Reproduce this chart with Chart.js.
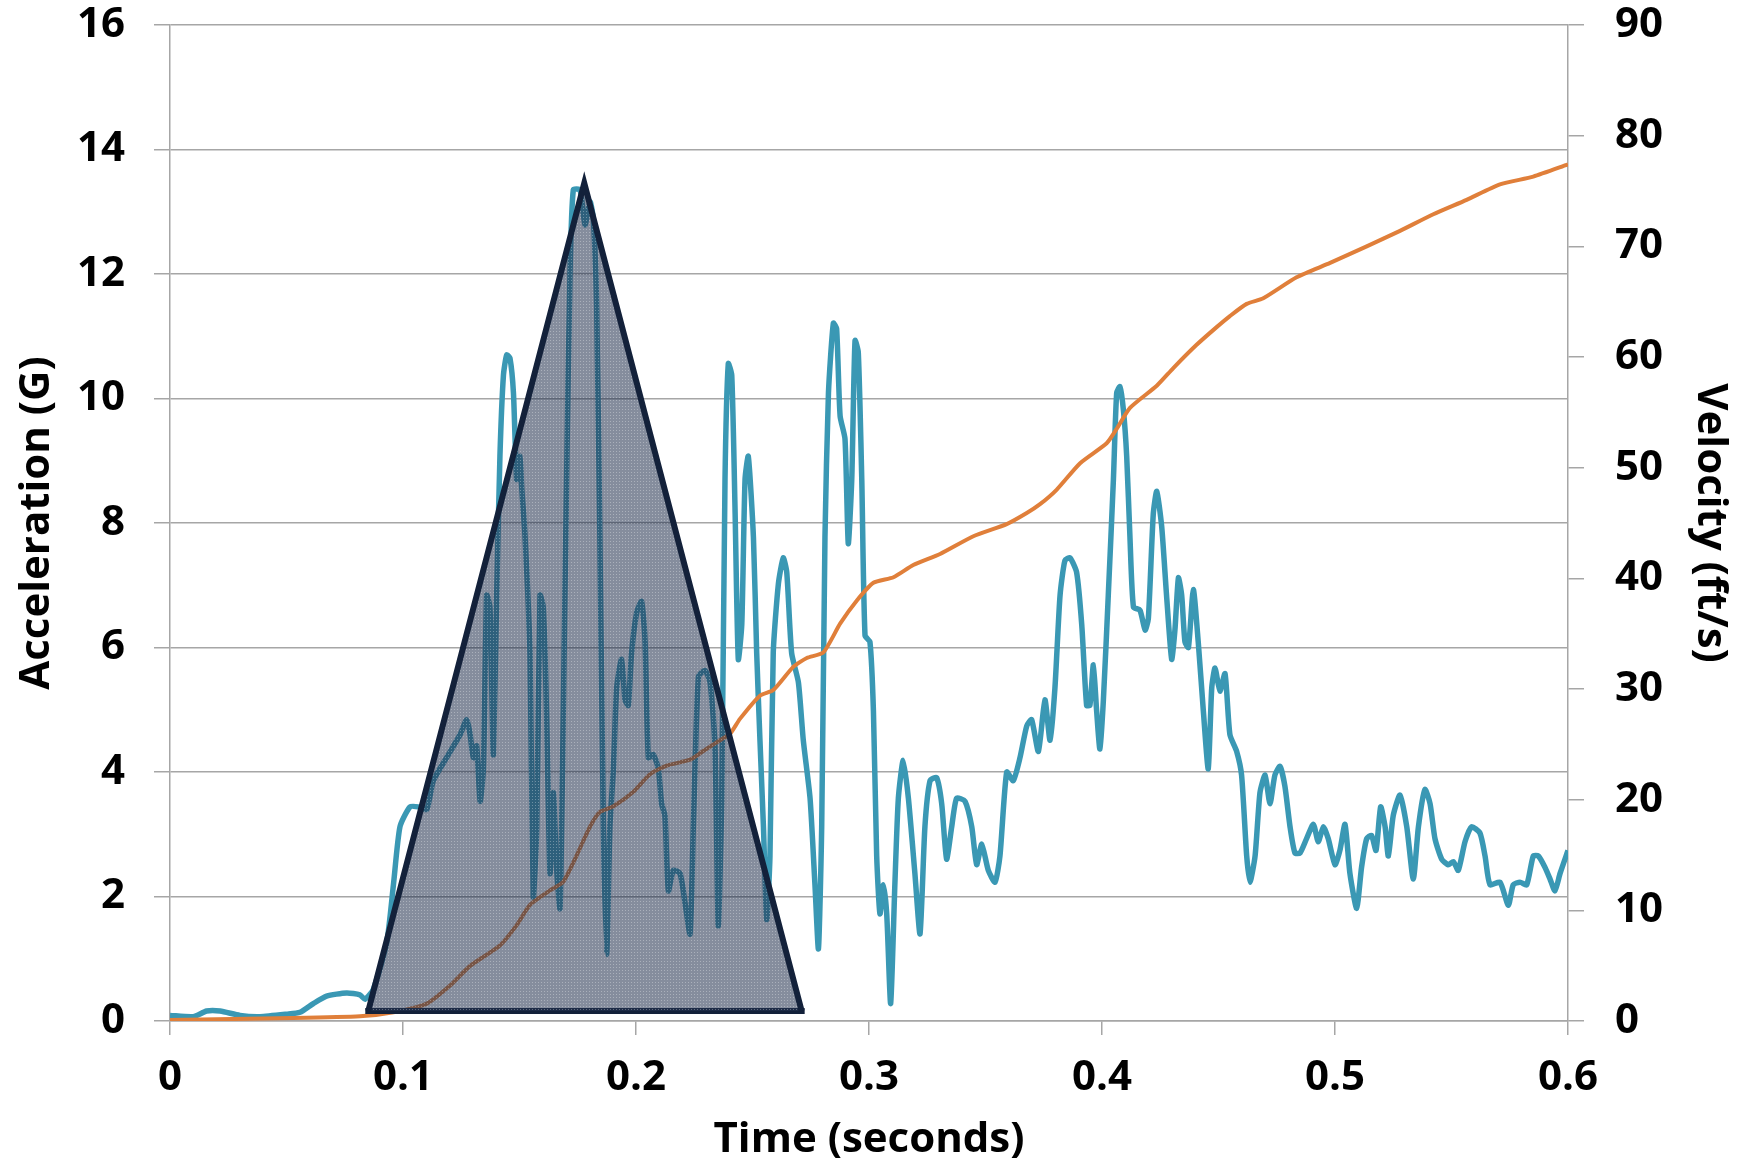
<!DOCTYPE html>
<html>
<head>
<meta charset="utf-8">
<script src="https://cdn.jsdelivr.net/npm/chart.js@4.4.1/dist/chart.umd.min.js"></script>
<style>
  html, body { margin: 0; padding: 0; background: #fff; }
  canvas { display: block; }
</style>
</head>
<body>
<canvas id="impactChart" width="1744" height="1163"></canvas>
<script>
// Acceleration trace (G) vs time (s)
const accTime = [0, 0.0100, 0.0157, 0.0215, 0.0300, 0.0386, 0.0500, 0.0558, 0.0615, 0.0672, 0.0758, 0.0815, 0.0837, 0.0873,
  0.0930, 0.0959, 0.0987, 0.1030, 0.1066, 0.1102, 0.1130, 0.1187, 0.1245, 0.1273, 0.1288, 0.1302, 0.1316, 0.1331, 0.1345,
  0.1359, 0.1373, 0.1381, 0.1388, 0.1402, 0.1416, 0.1431, 0.1445, 0.1459, 0.1474, 0.1488, 0.1502, 0.1509, 0.1524, 0.1545,
  0.1559, 0.1574, 0.1588, 0.1602, 0.1616, 0.1631, 0.1645, 0.1659, 0.1674, 0.1688, 0.1702, 0.1717, 0.1731, 0.1760, 0.1781,
  0.1803, 0.1817, 0.1831, 0.1845, 0.1860, 0.1874, 0.1888, 0.1903, 0.1917, 0.1938, 0.1953, 0.1967, 0.1981, 0.2003, 0.2024,
  0.2039, 0.2053, 0.2074, 0.2096, 0.2110, 0.2124, 0.2139, 0.2160, 0.2189, 0.2210, 0.2232, 0.2246, 0.2268, 0.2296, 0.2318,
  0.2339, 0.2353, 0.2368, 0.2382, 0.2396, 0.2411, 0.2425, 0.2439, 0.2454, 0.2468, 0.2482, 0.2504, 0.2518, 0.2532, 0.2547,
  0.2561, 0.2575, 0.2589, 0.2611, 0.2632, 0.2647, 0.2668, 0.2697, 0.2718, 0.2747, 0.2768, 0.2783, 0.2797, 0.2811, 0.2826,
  0.2847, 0.2861, 0.2876, 0.2897, 0.2911, 0.2926, 0.2940, 0.2954, 0.2969, 0.2983, 0.3004, 0.3019, 0.3033, 0.3047, 0.3062,
  0.3076, 0.3093, 0.3111, 0.3126, 0.3147, 0.3169, 0.3197, 0.3219, 0.3240, 0.3262, 0.3290, 0.3312, 0.3333, 0.3355, 0.3376,
  0.3412, 0.3441, 0.3462, 0.3484, 0.3512, 0.3541, 0.3562, 0.3591, 0.3619, 0.3648, 0.3677, 0.3698, 0.3727, 0.3755, 0.3777,
  0.3798, 0.3820, 0.3841, 0.3863, 0.3891, 0.3913, 0.3934, 0.3948, 0.3963, 0.3977, 0.3991, 0.4006, 0.4027, 0.4049, 0.4063,
  0.4077, 0.4092, 0.4106, 0.4120, 0.4135, 0.4163, 0.4185, 0.4199, 0.4220, 0.4235, 0.4256, 0.4277, 0.4299, 0.4313, 0.4328,
  0.4342, 0.4356, 0.4371, 0.4392, 0.4413, 0.4435, 0.4456, 0.4471, 0.4485, 0.4506, 0.4528, 0.4549, 0.4578, 0.4599, 0.4621,
  0.4635, 0.4657, 0.4678, 0.4700, 0.4721, 0.4742, 0.4764, 0.4785, 0.4807, 0.4828, 0.4850, 0.4878, 0.4907, 0.4928, 0.4950,
  0.4971, 0.5000, 0.5021, 0.5043, 0.5064, 0.5093, 0.5114, 0.5136, 0.5157, 0.5176, 0.5196, 0.5215, 0.5229, 0.5250, 0.5279,
  0.5308, 0.5336, 0.5358, 0.5386, 0.5408, 0.5429, 0.5458, 0.5486, 0.5508, 0.5529, 0.5558, 0.5586, 0.5622, 0.5644, 0.5665,
  0.5708, 0.5744, 0.5765, 0.5794, 0.5823, 0.5851, 0.5873, 0.5901, 0.5923, 0.5944, 0.5966, 0.6000];
const accG = [0.09, 0.07, 0.16, 0.16, 0.09, 0.07, 0.11, 0.14, 0.28, 0.40, 0.45, 0.42, 0.35, 0.51,
  1.26, 2.19, 3.12, 3.44, 3.44, 3.40, 3.86, 4.23, 4.60, 4.84, 4.60, 4.23, 4.42, 3.53, 4.05,
  6.84, 6.65, 5.35, 4.28, 6.84, 9.07, 10.37, 10.70, 10.65, 10.09, 8.70, 9.07, 8.60, 7.77, 5.91,
  2.00, 3.12, 6.84, 6.65, 4.98, 2.37, 3.67, 2.47, 1.81, 4.98, 8.70, 12.05, 13.35, 13.35, 12.79,
  13.16, 12.88, 11.49, 7.77, 3.12, 1.07, 3.12, 4.05, 5.35, 5.81, 5.16, 5.07, 5.91, 6.56, 6.74,
  6.09, 4.23, 4.28, 4.05, 3.49, 3.30, 2.09, 2.42, 2.37, 1.91, 1.40, 3.12, 5.53, 5.63, 5.44,
  4.42, 1.53, 3.58, 8.70, 10.56, 10.37, 8.23, 5.81, 6.37, 8.70, 9.07, 7.77, 5.91, 4.51, 3.12,
  1.63, 2.65, 5.91, 7.02, 7.44, 7.21, 5.91, 5.44, 4.51, 3.58, 2.19, 1.16, 3.12, 7.77, 10.09,
  11.21, 11.12, 9.72, 9.35, 7.67, 8.70, 10.93, 10.74, 8.70, 6.19, 6.09, 4.98, 2.65, 1.72, 2.19,
  1.72, 0.28, 2.19, 3.58, 4.19, 3.58, 2.37, 1.40, 3.12, 3.86, 3.91, 3.49, 2.60, 3.12, 3.58,
  3.53, 3.12, 2.51, 2.84, 2.42, 2.23, 2.65, 4.00, 3.86, 4.23, 4.74, 4.84, 4.33, 5.16, 4.51,
  5.35, 6.84, 7.40, 7.44, 7.21, 6.37, 5.07, 5.07, 5.72, 4.98, 4.37, 5.16, 6.84, 8.70, 10.09,
  10.19, 9.81, 9.07, 7.77, 6.65, 6.60, 6.28, 6.47, 8.14, 8.51, 7.95, 6.84, 5.81, 6.28, 7.12,
  6.84, 6.09, 6.00, 6.93, 6.09, 4.98, 4.05, 5.35, 5.67, 5.30, 5.58, 4.60, 4.33, 3.95, 2.65,
  2.23, 2.65, 3.67, 3.95, 3.49, 3.95, 4.09, 3.77, 3.12, 2.70, 2.70, 2.93, 3.16, 2.88, 3.12,
  2.93, 2.51, 2.74, 3.16, 2.37, 1.81, 2.47, 2.93, 2.98, 2.74, 3.44, 3.12, 2.65, 3.30, 3.63,
  3.12, 2.28, 3.12, 3.72, 3.49, 2.93, 2.60, 2.51, 2.56, 2.42, 2.88, 3.12, 3.02, 2.65, 2.19,
  2.23, 1.86, 2.19, 2.23, 2.19, 2.65, 2.65, 2.47, 2.28, 2.09, 2.37, 2.74];

// Velocity trace (ft/s) vs time (s)
const velTime = [0, 0.0529, 0.0815, 0.0959, 0.1102, 0.1202, 0.1288, 0.1416, 0.1488, 0.1545, 0.1631, 0.1688, 0.1745,
  0.1803, 0.1845, 0.1903, 0.1989, 0.2060, 0.2132, 0.2232, 0.2289, 0.2346, 0.2404, 0.2446, 0.2532, 0.2589, 0.2675,
  0.2733, 0.2804, 0.2876, 0.2948, 0.3019, 0.3105, 0.3190, 0.3305, 0.3448, 0.3591, 0.3677, 0.3734, 0.3805, 0.3906,
  0.4020, 0.4063, 0.4120, 0.4235, 0.4306, 0.4406, 0.4492, 0.4549, 0.4621, 0.4692, 0.4835, 0.4979, 0.5136, 0.5279,
  0.5422, 0.5565, 0.5708, 0.5851, 0.6000];
const velFtS = [0.1, 0.26, 0.42, 0.79, 1.57, 3.2, 4.98, 6.82, 8.66, 10.49, 11.80, 12.59, 14.95,
  17.58, 18.89, 19.41, 20.72, 22.30, 23.08, 23.61, 24.40, 25.18, 25.97, 27.3, 29.4, 29.9, 32.0,
  32.8, 33.3, 35.9, 38.0, 39.6, 40.1, 41.2, 42.2, 43.8, 44.9, 45.9, 46.7, 48.0, 50.4,
  52.2, 53.5, 55.4, 57.4, 59.0, 61.1, 62.7, 63.7, 64.8, 65.3, 67.2, 68.5, 70.0, 71.4,
  72.9, 74.2, 75.6, 76.3, 77.4];

// Triangular pulse overlay (time, G)
const pulseTime = [0.0851, 0.1778, 0.2711];
const pulseG = [0.16, 13.46, 0.16];

const toPoints = (xs, ys) => xs.map((x, i) => ({ x: x, y: ys[i] }));

// keep the plot box where it is: no extra room for overhanging tick labels
const noOverhang = (s) => {
    s.paddingTop = 0;
    s.paddingBottom = 0;
    s.paddingLeft = 0;
    s.paddingRight = 0;
};

document.addEventListener("DOMContentLoaded", () => {
    const canvas = document.getElementById("impactChart");
    const ctx = canvas.getContext("2d");

    // dotted grey fill for the pulse triangle
    const pat = document.createElement("canvas");
    pat.width = 3;
    pat.height = 3;
    const pc = pat.getContext("2d");
    pc.fillStyle = "rgba(38,52,80,0.56)";
    pc.fillRect(0, 0, 3, 3);
    pc.fillStyle = "rgba(255,255,255,0.30)";
    pc.fillRect(1, 1, 1, 1);
    const pulseFill = ctx.createPattern(pat, "repeat");

    const tickFont = { family: "'Open Sans'", weight: "bold", size: 42 };
    const titleFont = { family: "'Open Sans'", weight: "bold", size: 42, lineHeight: 1 };
    const gridGrey = "#a6a6a6";

    new Chart(ctx, {
        type: "line",
        data: {
            datasets: [
                {
                    label: "Pulse",
                    data: toPoints(pulseTime, pulseG),
                    yAxisID: "y",
                    borderColor: "#13213a",
                    borderWidth: 6,
                    borderJoinStyle: "miter",
                    backgroundColor: pulseFill,
                    fill: { value: pulseG[0] },
                    pointRadius: 0,
                    tension: 0,
                    order: 0
                },
                {
                    label: "Pulse base",
                    data: toPoints([pulseTime[0], pulseTime[2]], [pulseG[0], pulseG[2]]),
                    yAxisID: "y",
                    borderColor: "#13213a",
                    borderWidth: 6,
                    borderCapStyle: "square",
                    fill: false,
                    pointRadius: 0,
                    order: 0
                },
                {
                    label: "Velocity",
                    data: toPoints(velTime, velFtS),
                    yAxisID: "y1",
                    borderColor: "#e07f3a",
                    borderWidth: 4,
                    borderJoinStyle: "round",
                    fill: false,
                    pointRadius: 0,
                    tension: 0.2,
                    order: 1
                },
                {
                    label: "Acceleration",
                    data: toPoints(accTime, accG),
                    yAxisID: "y",
                    borderColor: "#3a98b4",
                    borderWidth: 5.5,
                    borderJoinStyle: "round",
                    fill: false,
                    pointRadius: 0,
                    tension: 0.2,
                    order: 2
                }
            ]
        },
        options: {
            responsive: false,
            animation: false,
            devicePixelRatio: 1,
            layout: { padding: { top: 25, left: 0, right: 0, bottom: 0 } },
            plugins: {
                legend: { display: false },
                tooltip: { enabled: false }
            },
            scales: {
                x: {
                    type: "linear",
                    min: 0,
                    max: 0.6,
                    afterFit: (s) => { s.height = 142; noOverhang(s); },
                    ticks: {
                        stepSize: 0.1,
                        color: "#000",
                        font: tickFont,
                        padding: 18,
                        maxRotation: 0,
                        autoSkip: false,
                        callback: (v) => String(+v.toFixed(1))
                    },
                    grid: { drawOnChartArea: false, drawTicks: true, tickLength: 14, color: gridGrey, lineWidth: 1.5 },
                    border: { display: true, color: gridGrey, width: 1.5 },
                    title: { display: true, text: "Time (seconds)", color: "#000", font: titleFont, padding: { top: 0, bottom: 2 } }
                },
                y: {
                    position: "left",
                    min: 0,
                    max: 16,
                    afterFit: (s) => { s.width = 170; noOverhang(s); },
                    ticks: { stepSize: 2, color: "#000", font: tickFont, padding: 29 },
                    grid: { color: gridGrey, lineWidth: 1.5, drawTicks: true, tickLength: 16 },
                    border: { display: true, color: gridGrey, width: 1.5 },
                    title: { display: true, text: "Acceleration (G)", color: "#000", font: titleFont, padding: { top: 16, bottom: 0 } }
                },
                y1: {
                    position: "right",
                    min: 0,
                    max: 90,
                    afterFit: (s) => { s.width = 176; noOverhang(s); },
                    ticks: { stepSize: 10, color: "#000", font: tickFont, padding: 31 },
                    grid: { drawOnChartArea: false, drawTicks: true, tickLength: 16, color: gridGrey, lineWidth: 1.5 },
                    border: { display: true, color: gridGrey, width: 1.5 },
                    title: { display: true, text: "Velocity (ft/s)", color: "#000", font: titleFont, padding: { top: 13, bottom: 0 } }
                }
            }
        }
    });
});
</script>
</body>
</html>
